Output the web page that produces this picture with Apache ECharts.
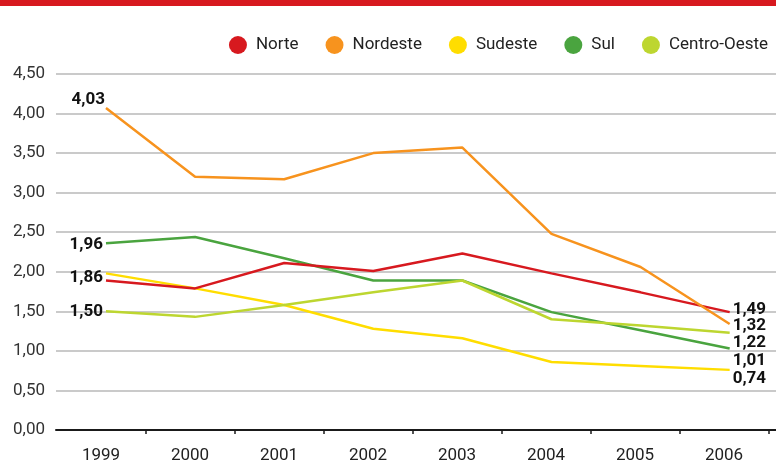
<!DOCTYPE html>
<html>
<head>
<meta charset="utf-8">
<script src="https://cdn.jsdelivr.net/npm/echarts@6/dist/echarts.min.js"></script>
<style>
  html, body { margin: 0; padding: 0; background: #fff; }
  #chart { width: 776px; height: 467px; }
</style>
</head>
<body>
<div id="chart"></div>
<script>
/* dados */
const anos = ['1999', '2000', '2001', '2002', '2003', '2004', '2005', '2006'];
const regioes = ['Norte', 'Nordeste', 'Sudeste', 'Sul', 'Centro-Oeste'];
const norte = [1.89, 1.79, 2.11, 2.01, 2.23, 1.98, 1.74, 1.49];
const nordeste = [4.07, 3.20, 3.17, 3.50, 3.57, 2.48, 2.06, 1.34];
const sudeste = [1.98, 1.79, 1.58, 1.28, 1.16, 0.86, 0.81, 0.76];
const sul = [2.36, 2.44, 2.17, 1.89, 1.89, 1.49, 1.26, 1.03];
const centroOeste = [1.50, 1.43, 1.58, 1.74, 1.89, 1.40, 1.32, 1.23];
// rótulos escritos no início e no fim das linhas
const rotulosInicio = ['1,86', '4,03', '', '1,96', '1,50'];
const rotulosFim = ['1,49', '1,32', '0,74', '1,01', '1,22'];
const yTicks = { min: 0, max: 4.5, interval: 0.5 };

(function () {
  const cores = ['#d7191f', '#f7931e', '#ffdd00', '#4aa43f', '#bdd630'];
  const valores = [norte, nordeste, sudeste, sul, centroOeste];
  const ordem = [4, 5, 1, 2, 3];
  // deslocamentos dos rótulos (estilo)
  const offInicio = [[0, -3], [2, -8], [0, 0], [0, 1], [0, 0]];
  const offFim = [[0, -2], [0, 2], [0, 9], [0, 12], [0, 10]];
  const fonte = 'Roboto, "Noto Sans", sans-serif';

  const chart = echarts.init(document.getElementById('chart'), null, { renderer: 'canvas' });

  const series = regioes.map((nome, k) => {
    const vals = valores[k];
    const ultimo = vals.length - 1;
    const data = vals.map((v, i) => {
      const ponto = { value: [i, v] };
      if (i === 0 && rotulosInicio[k]) {
        ponto.label = { show: true, position: 'left', distance: 3, formatter: rotulosInicio[k] };
      } else if (i === ultimo && rotulosFim[k]) {
        ponto.label = { show: true, position: 'right', distance: 3, formatter: rotulosFim[k] };
      }
      return ponto;
    });
    return {
      name: nome,
      type: 'line',
      xAxisIndex: 0,
      yAxisIndex: 0,
      data: data,
      symbol: 'circle',
      symbolSize: 0.01,
      showSymbol: true,
      z: ordem[k],
      lineStyle: { color: cores[k], width: 2.5 },
      itemStyle: { color: cores[k] },
      label: {
        show: false,
        color: '#111',
        fontWeight: 'bold',
        fontSize: 17,
        fontFamily: fonte
      },
      labelLayout: function (p) {
        const o = p.dataIndex === 0 ? offInicio[k] : offFim[k];
        return { dx: o[0], dy: o[1], hideOverlap: false };
      },
      emphasis: { disabled: true }
    };
  });

  const option = {
    animation: false,
    backgroundColor: '#fff',
    graphic: [
      { type: 'rect', left: 0, top: 0, shape: { width: 776, height: 6 }, style: { fill: '#d7191f' } }
    ],
    legend: {
      data: regioes,
      right: 3,
      top: 31,
      icon: 'circle',
      itemWidth: 18,
      itemHeight: 18,
      itemGap: 27,
      textStyle: { fontSize: 17, color: '#222', fontFamily: fonte, padding: [0, 0, 0, 4] }
    },
    grid: [
      { left: 56, right: 0, top: 74, bottom: 37 },
      { left: 56.5, right: 7.5, top: 74, bottom: 37 }
    ],
    xAxis: [
      {
        type: 'value',
        gridIndex: 0,
        min: -0.561,
        max: 7.52,
        axisLine: { show: true, onZero: false, lineStyle: { color: '#1a1a1a', width: 2 } },
        axisTick: { show: false },
        axisLabel: { show: false },
        splitLine: { show: false }
      },
      {
        type: 'category',
        gridIndex: 1,
        data: anos,
        boundaryGap: true,
        axisLine: { show: false },
        axisTick: {
          show: true,
          length: 4,
          interval: (i) => i > 0 && i < anos.length,
          lineStyle: { color: '#1a1a1a', width: 1.5 }
        },
        axisLabel: { color: '#222', fontSize: 17, fontFamily: fonte, margin: 17 },
        splitLine: { show: false }
      }
    ],
    yAxis: [
      {
        type: 'value',
        gridIndex: 0,
        min: yTicks.min,
        max: yTicks.max,
        interval: yTicks.interval,
        axisLine: { show: false },
        axisTick: { show: false },
        axisLabel: {
          color: '#333',
          fontSize: 17,
          fontFamily: fonte,
          margin: 11,
          formatter: v => v.toFixed(2).replace('.', ',')
        },
        splitLine: { show: true, lineStyle: { color: '#b8b8b8', width: 1.5 } }
      },
      { type: 'value', gridIndex: 1, min: yTicks.min, max: yTicks.max, show: false }
    ],
    series: series
  };

  chart.setOption(option);
})();
</script>
</body>
</html>
